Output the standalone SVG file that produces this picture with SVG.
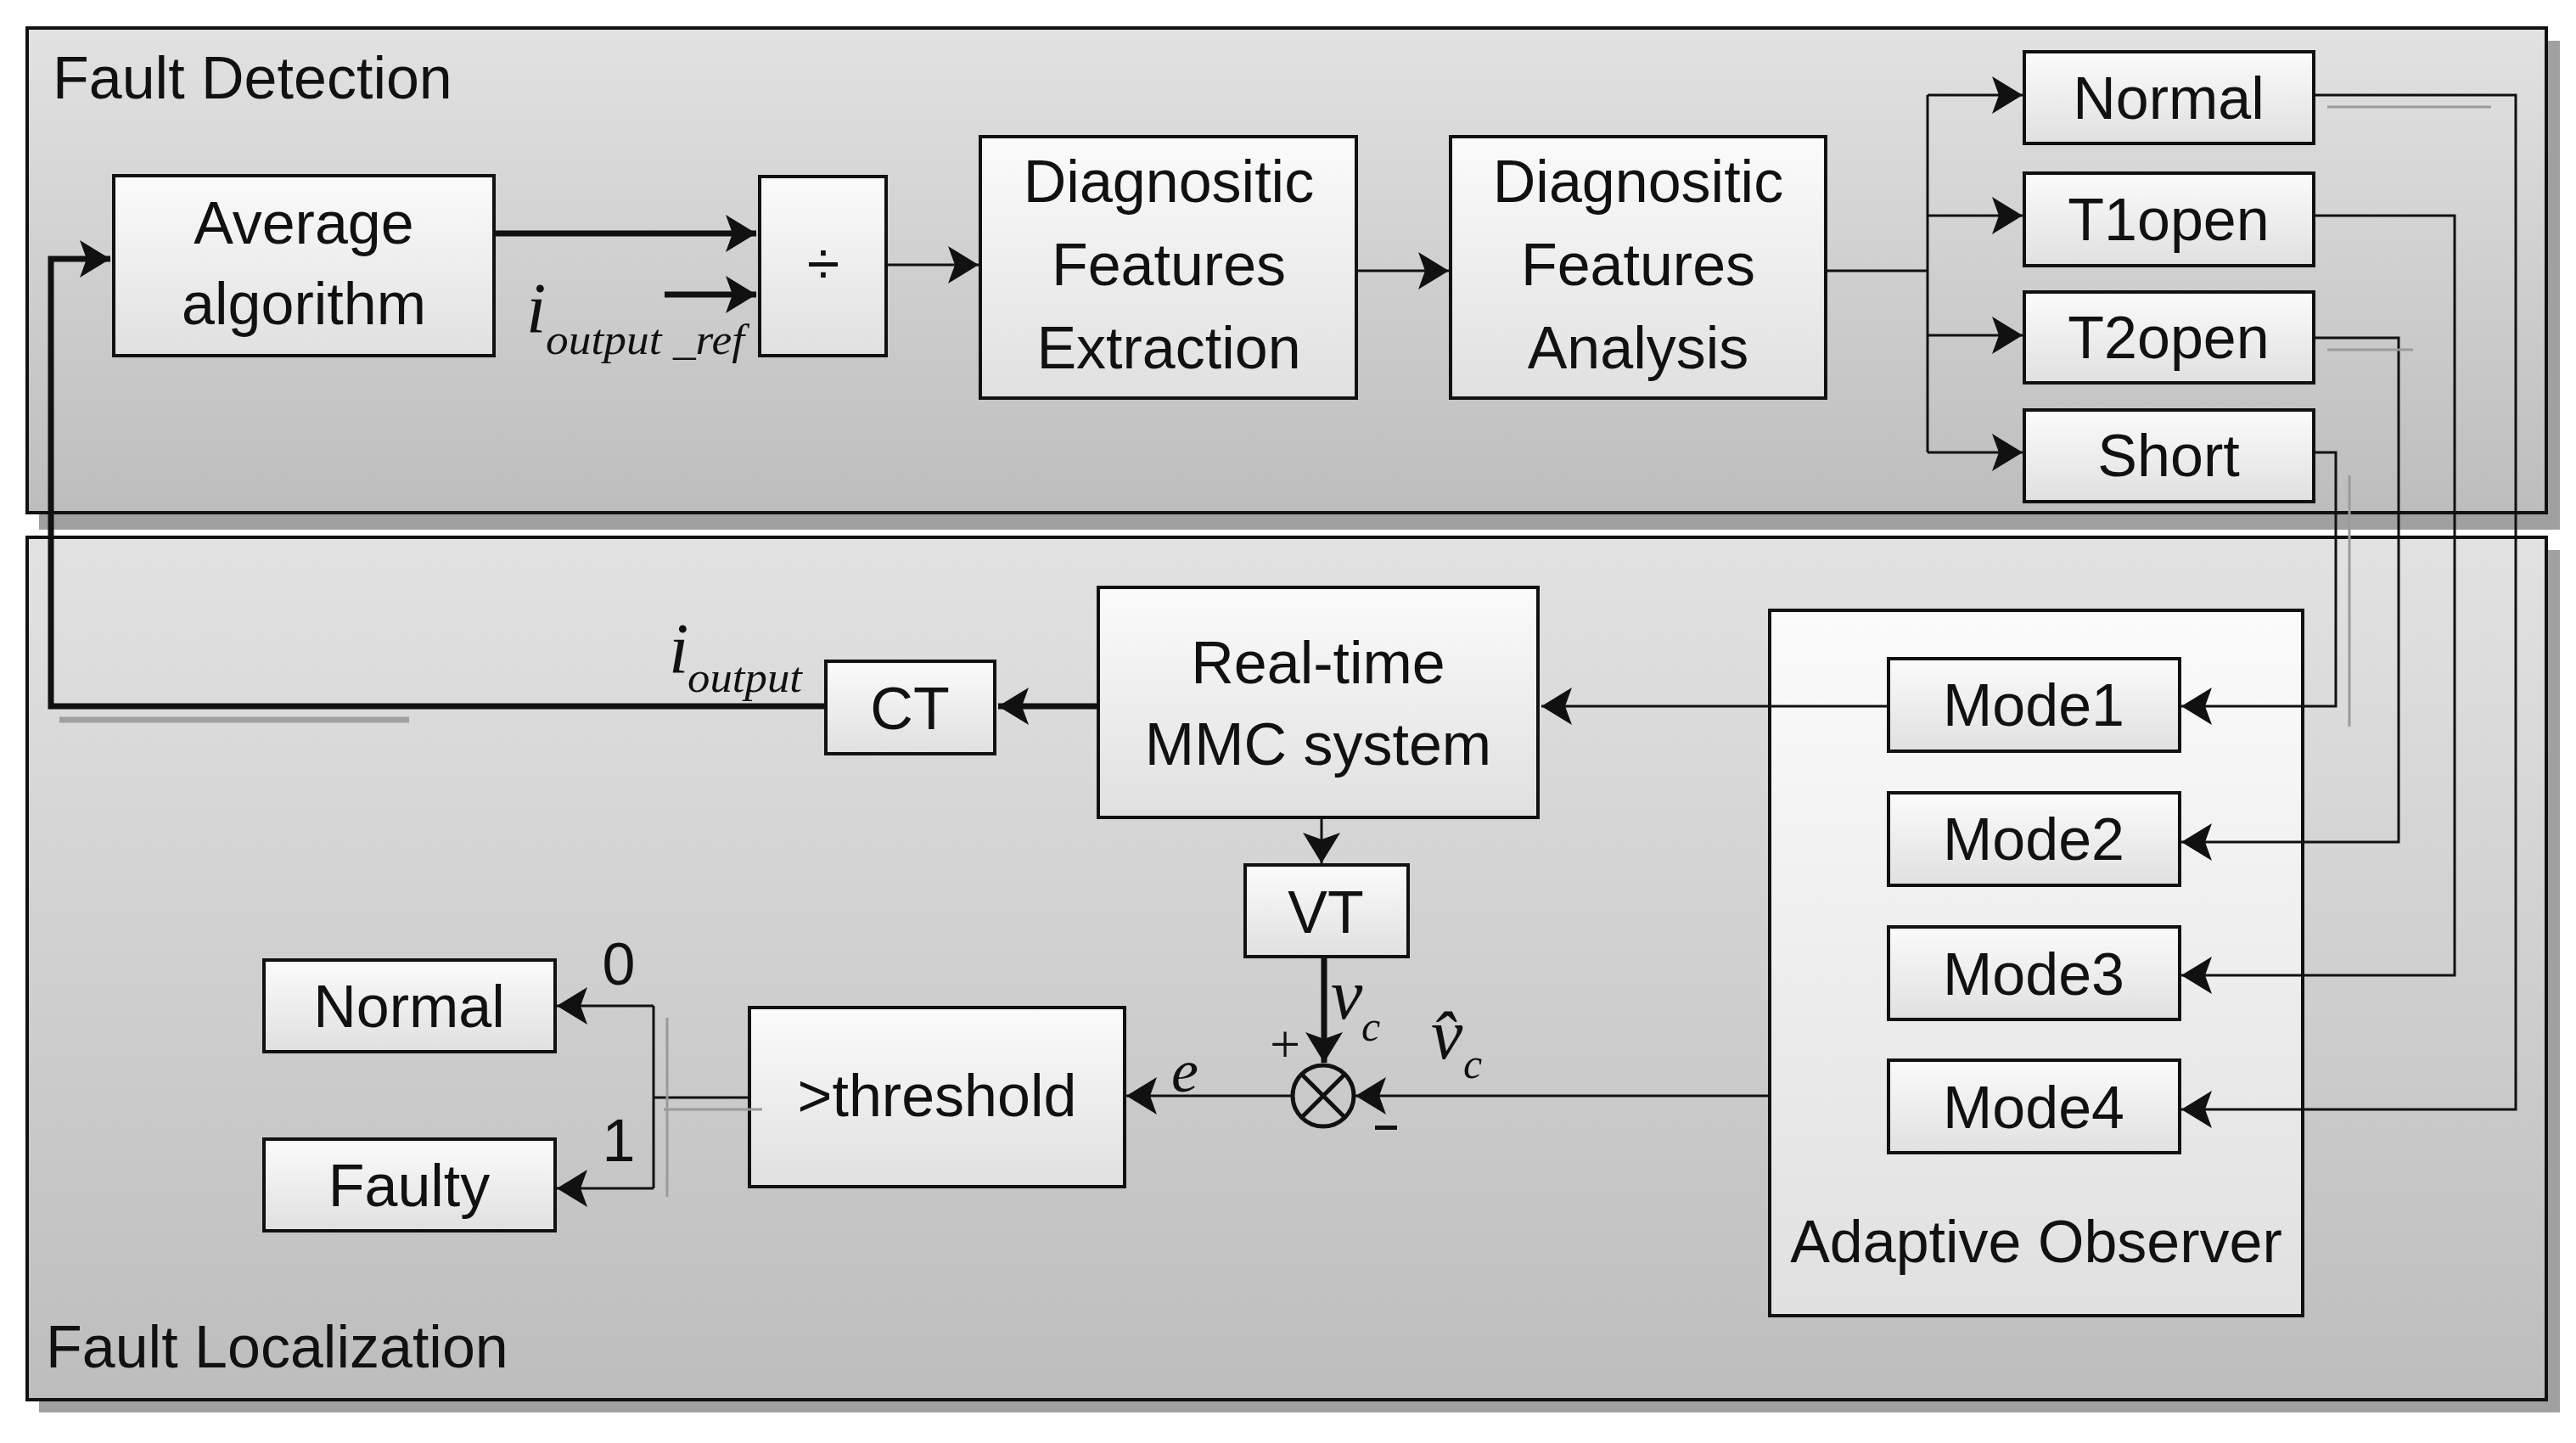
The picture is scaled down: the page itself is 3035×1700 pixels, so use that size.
<svg xmlns="http://www.w3.org/2000/svg" width="3035" height="1700" viewBox="0 0 3035 1700">
<style>
.t{font-family:"Liberation Sans",Arial,sans-serif;font-size:70px;fill:#111;text-anchor:middle}
.m{font-family:"Liberation Serif","Times New Roman",serif;font-style:italic;fill:#111}
.box{fill:url(#bg);stroke:#111;stroke-width:4}
.ln{fill:none;stroke:#111;stroke-width:3}
.tk{fill:none;stroke:#111;stroke-width:7}
.gr{fill:none;stroke:#9a9a9a;stroke-width:3}
</style>
<defs>
<linearGradient id="bg" x1="0" y1="0" x2="0" y2="1"><stop offset="0" stop-color="#fbfbfb"/><stop offset="1" stop-color="#e0e0e0"/></linearGradient>
<linearGradient id="pg" x1="0" y1="0" x2="0" y2="1"><stop offset="0" stop-color="#e2e2e2"/><stop offset="1" stop-color="#bdbdbd"/></linearGradient>
<marker id="a" markerUnits="userSpaceOnUse" markerWidth="40" markerHeight="50" refX="36" refY="22" orient="auto"><path d="M0,0 L36,22 L0,44 L8,22 Z" fill="#111"/></marker>
</defs>
<g id="panels">
<rect x="46" y="48" width="2970" height="576" fill="#a0a0a0"/>
<rect x="32" y="33" width="2968" height="571" fill="url(#pg)" stroke="#111" stroke-width="4"/>
<rect x="46" y="648" width="2970" height="1016" fill="#a0a0a0"/>
<rect x="32" y="633" width="2968" height="1016" fill="url(#pg)" stroke="#111" stroke-width="4"/>
<text x="62" y="116" style="font-family:'Liberation Sans',Arial,sans-serif;font-size:70px;fill:#111">Fault Detection</text>
<text x="54" y="1611" style="font-family:'Liberation Sans',Arial,sans-serif;font-size:70px;fill:#111">Fault Localization</text>
</g>
<g id="avg"><rect class="box" x="134" y="207" width="448" height="212"/><text class="t" x="358" y="287">Average</text><text class="t" x="358" y="382">algorithm</text></g>
<g id="div"><rect class="box" x="895" y="208" width="149" height="211"/><text class="t" x="970" y="335">÷</text></g>
<g id="dfe"><rect class="box" x="1155" y="161" width="443" height="308"/><text class="t" x="1377" y="238">Diagnositic</text><text class="t" x="1377" y="336">Features</text><text class="t" x="1377" y="434">Extraction</text></g>
<g id="dfa"><rect class="box" x="1709" y="161" width="442" height="308"/><text class="t" x="1930" y="238">Diagnositic</text><text class="t" x="1930" y="336">Features</text><text class="t" x="1930" y="434">Analysis</text></g>
<g id="normal1"><rect class="box" x="2385" y="61" width="341" height="108"/><text class="t" x="2555" y="140">Normal</text></g>
<g id="t1"><rect class="box" x="2385" y="204" width="341" height="109"/><text class="t" x="2555" y="283">T1open</text></g>
<g id="t2"><rect class="box" x="2385" y="344" width="341" height="107"/><text class="t" x="2555" y="422">T2open</text></g>
<g id="short"><rect class="box" x="2385" y="483" width="341" height="108"/><text class="t" x="2555" y="561">Short</text></g>
<g id="mmc"><rect class="box" x="1294" y="692" width="518" height="271"/><text class="t" x="1553" y="805">Real-time</text><text class="t" x="1553" y="901">MMC system</text></g>
<g id="ct"><rect class="box" x="973" y="779" width="199" height="109"/><text class="t" x="1072" y="859">CT</text></g>
<g id="obs"><rect class="box" x="2085" y="719" width="628" height="831"/><text class="t" x="2399" y="1487">Adaptive Observer</text></g>
<g id="mode1"><rect class="box" x="2225" y="776" width="343" height="109"/><text class="t" x="2396" y="855">Mode1</text></g>
<g id="mode2"><rect class="box" x="2225" y="934" width="343" height="109"/><text class="t" x="2396" y="1013">Mode2</text></g>
<g id="mode3"><rect class="box" x="2225" y="1092" width="343" height="109"/><text class="t" x="2396" y="1172">Mode3</text></g>
<g id="mode4"><rect class="box" x="2225" y="1249" width="343" height="109"/><text class="t" x="2396" y="1329">Mode4</text></g>
<g id="vt"><rect class="box" x="1467" y="1019" width="192" height="108"/><text class="t" x="1562" y="1099">VT</text></g>
<g id="sum"><circle cx="1559" cy="1291" r="36" fill="none" stroke="#111" stroke-width="5"/><path d="M1534,1266 L1584,1316 M1584,1266 L1534,1316" stroke="#111" stroke-width="5"/></g>
<g id="thr"><rect class="box" x="883" y="1187" width="442" height="211"/><text class="t" x="1104" y="1315">&gt;threshold</text></g>
<g id="normal2"><rect class="box" x="311" y="1131" width="343" height="108"/><text class="t" x="482" y="1210">Normal</text></g>
<g id="faulty"><rect class="box" x="311" y="1342" width="343" height="108"/><text class="t" x="482" y="1421">Faulty</text></g>
<g id="connectors">
<path class="tk" d="M973,832 H60 V305 H130" marker-end="url(#a)"/>
<line x1="70" y1="848" x2="482" y2="848" stroke="#a0a0a0" stroke-width="7"/>
<path class="tk" d="M1294,832 H1176" marker-end="url(#a)"/>
<path class="tk" d="M582,275 H891" marker-end="url(#a)"/>
<path class="tk" d="M783,347 H891" marker-end="url(#a)"/>
<path class="ln" d="M1044,312 H1153" marker-end="url(#a)"/>
<path class="ln" d="M1598,319 H1707" marker-end="url(#a)"/>
<path class="ln" d="M2151,319 H2271"/>
<path class="ln" d="M2271,112 V533"/>
<path class="ln" d="M2271,112 H2383" marker-end="url(#a)"/>
<path class="ln" d="M2271,254 H2383" marker-end="url(#a)"/>
<path class="ln" d="M2271,395 H2383" marker-end="url(#a)"/>
<path class="ln" d="M2271,533 H2383" marker-end="url(#a)"/>
<path class="ln" d="M2726,112 H2964 V1307 H2570" marker-end="url(#a)"/>
<path class="ln" d="M2726,254 H2892 V1149 H2570" marker-end="url(#a)"/>
<path class="ln" d="M2726,398 H2826 V992 H2570" marker-end="url(#a)"/>
<path class="ln" d="M2726,533 H2752 V832 H2570" marker-end="url(#a)"/>
<path class="gr" d="M2742,126 H2935 M2742,412 H2843 M2768,560 V856"/>
<path class="ln" d="M2225,832 H1816" marker-end="url(#a)"/>
<path class="ln" d="M1557,963 V1017" marker-end="url(#a)"/>
<path class="tk" d="M1560,1127 V1252" marker-end="url(#a)"/>
<path class="ln" d="M2085,1291 H1597" marker-end="url(#a)"/>
<path class="ln" d="M1523,1291 H1327" marker-end="url(#a)"/>
<path class="ln" d="M883,1293 H770 M770,1185 V1400"/>
<path class="ln" d="M770,1185 H656" marker-end="url(#a)"/>
<path class="ln" d="M770,1400 H656" marker-end="url(#a)"/>
<path class="gr" d="M786,1199 V1410 M782,1307 H898"/>
</g>
<g id="labels">
<text class="m" x="620" y="392" font-size="84">i</text>
<text class="m" x="643" y="417" font-size="50" textLength="234" lengthAdjust="spacingAndGlyphs">output _ref</text>
<text class="m" x="788" y="793" font-size="84">i</text>
<text class="m" x="810" y="815" font-size="50" textLength="135" lengthAdjust="spacingAndGlyphs">output</text>
<text class="m" x="1380" y="1286" font-size="72">e</text>
<text class="m" x="1568" y="1200" font-size="84">v</text>
<text class="m" x="1604" y="1226" font-size="50">c</text>
<text class="m" x="1686" y="1247" font-size="84">v̂</text>
<text class="m" x="1724" y="1270" font-size="50">c</text>
<text x="1514" y="1252" style="font-family:'Liberation Serif',serif;font-size:64px;fill:#111" text-anchor="middle">+</text>
<rect x="1620" y="1326" width="26" height="5" fill="#111"/>
<text class="t" x="729" y="1160">0</text>
<text class="t" x="729" y="1368">1</text>
</g>
</svg>
